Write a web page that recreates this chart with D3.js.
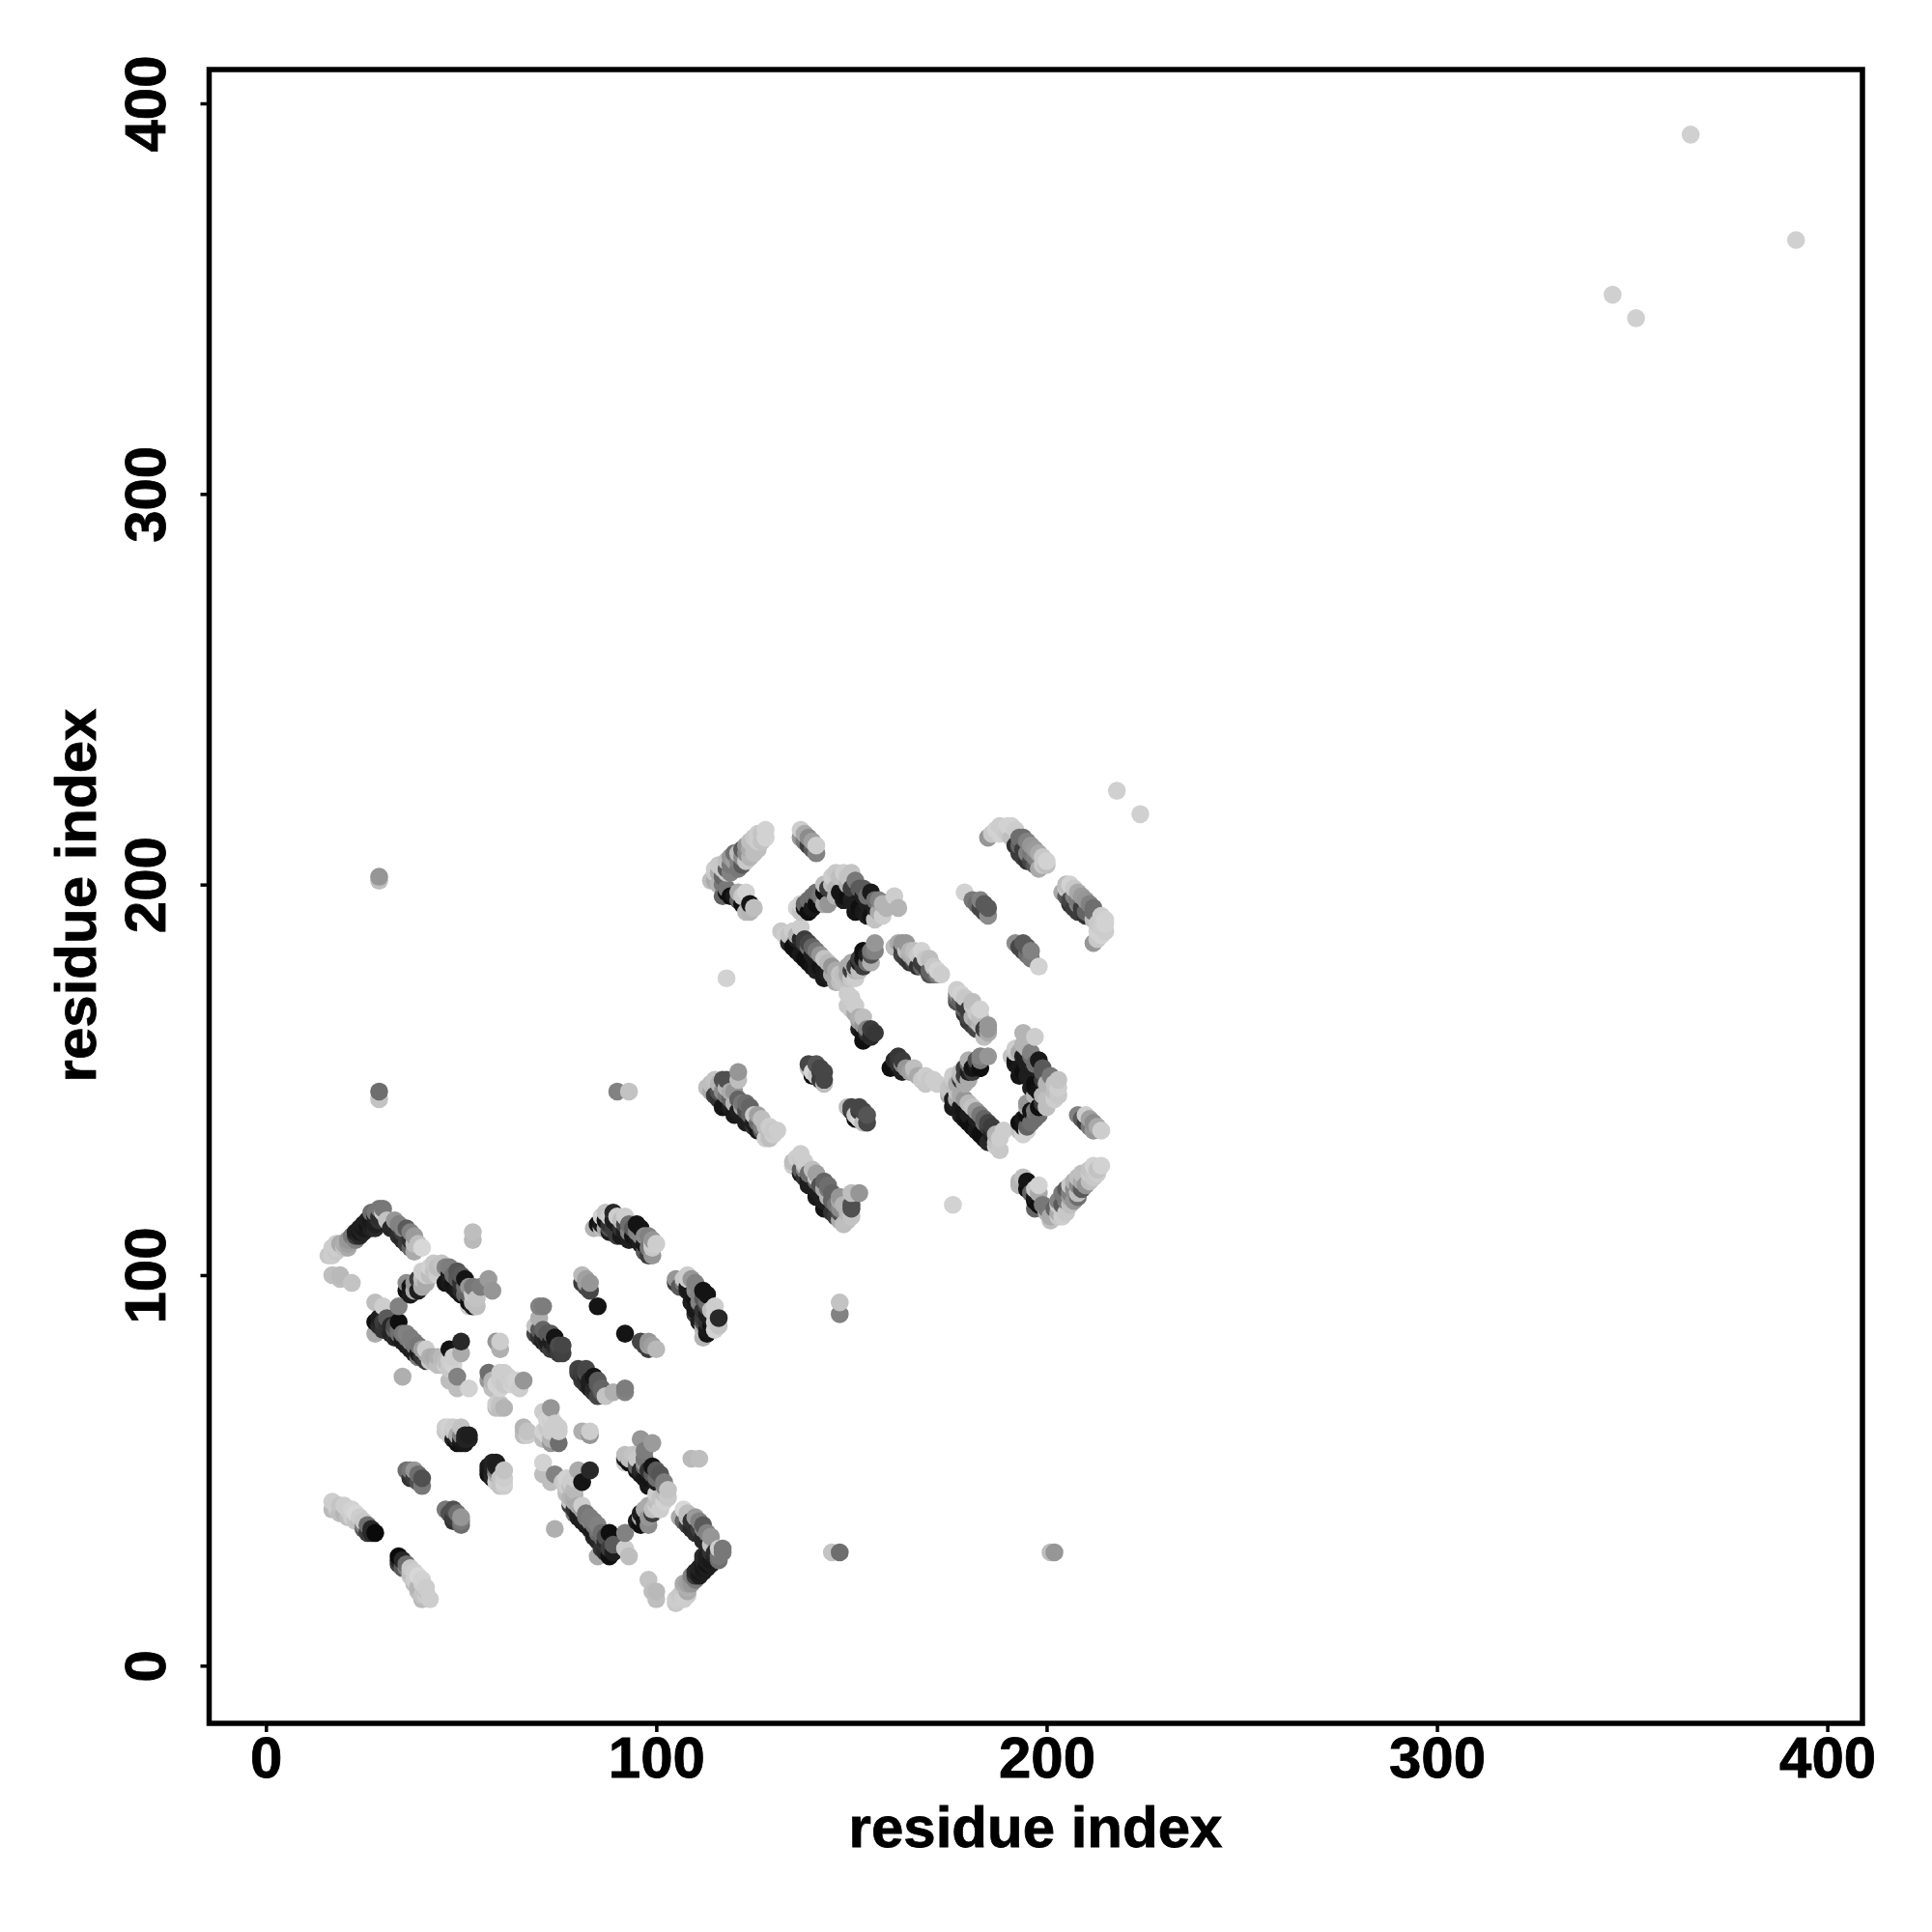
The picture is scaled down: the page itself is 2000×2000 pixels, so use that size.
<!DOCTYPE html>
<html><head><meta charset="utf-8"><script src="https://cdn.jsdelivr.net/npm/d3@7/dist/d3.min.js"></script>
<style>html,body{margin:0;background:#fff}svg{display:block}</style></head><body><svg id="c" width="2000" height="2000"></svg>
<script>
const xLabel="residue index", yLabel="residue index";
const tickValues=[0,100,200,300,400];
// contacts: [residue i, residue j, gray level]; each contact is shown at (i,j) and (j,i)
const s1=[[16,105,200],[17,107,205],[18,106,200],[19,108,170],[20,107,195],[21,108,160],[22,109,150],[22,110,120],[23,110,60],[24,110,40],[24,112,30],[25,111,35],[26,112,25],[26,114,30],[27,113,30],[28,112,40],[28,115,35],[29,114,50],[29,117,120],[30,116,205],[17,105,205],[18,107,205],[18,108,205],[20,108,175],[21,109,150],[21,107,170],[23,109,130],[23,111,30],[24,111,25],[25,112,25],[25,113,30],[26,113,20],[27,112,35],[27,114,25],[28,113,30],[27,116,110],[28,116,120],[29,115,45],[30,117,120]];
const s2=[[32,112,40],[33,114,150],[34,110,45],[36,112,90],[36,108,60],[38,110,155],[38,106,170],[40,107,215],[31,114,195],[33,112,40],[34,113,130],[35,109,40],[35,111,60],[35,112,130],[37,111,130],[37,109,50],[37,107,100],[39,108,190],[38,108,190]];
const s3=[[17,100,190],[19,100,185],[19,99,190],[22,98,195]];
const s4=[[28,93,190],[30,92,205],[34,92,130],[28,88,15],[28,85,170],[30,88,60],[31,89,90],[32,87,40],[33,87,80],[34,88,15],[33,84,40],[35,85,120],[35,83,30],[37,83,130],[37,81,30],[38,82,120],[40,81,160],[40,79,50],[42,79,175],[42,78,200],[45,79,185],[47,78,205],[47,76,200],[48,77,210],[29,87,40],[29,89,30],[30,86,50],[31,87,50],[32,85,35],[33,85,40],[33,86,100],[34,84,30],[34,85,110],[34,86,110],[35,84,25],[36,84,120],[36,82,30],[36,85,130],[37,84,125],[38,80,30],[38,83,125],[39,82,120],[39,80,30],[39,79,120],[41,80,170],[41,78,60],[41,81,205],[43,78,180],[43,79,170],[44,77,190],[44,79,175],[46,78,190],[46,77,205],[45,77,190],[48,79,205]];
const s5=[[47,81,20],[50,83,40],[50,80,170],[47,73,190],[49,74,130],[52,71,210],[49,71,190],[35,74,175]];
const s6=[[36,96,15],[36,98,140],[37,97,20],[38,96,170],[39,99,60],[40,101,205],[40,97,170],[42,102,210],[42,100,190],[44,100,205],[45,103,195],[46,102,130],[46,98,20],[47,100,30],[48,100,110],[49,101,85],[49,96,25],[50,98,50],[51,99,20],[51,95,100],[52,93,15],[52,97,150],[53,95,200],[52,92,205],[54,94,195],[55,97,125],[57,99,155],[58,96,150],[37,95,25],[38,98,150],[39,96,30],[40,99,190],[41,98,170],[41,100,205],[43,101,195],[43,103,200],[44,102,190],[47,98,25],[47,102,125],[48,98,20],[48,97,25],[49,99,90],[50,100,90],[50,95,20],[51,97,110],[50,96,40],[52,95,100],[53,92,30],[53,97,120],[53,93,190],[54,92,190]];
const s7=[[53,111,190],[53,109,185]];
const s8=[[70,92,130],[71,92,125],[70,89,175],[69,87,195],[71,86,100],[70,84,50],[72,83,30],[74,84,20],[73,81,60],[75,82,75],[75,80,60],[69,85,70],[70,86,90],[71,84,40],[71,83,30],[72,85,90],[72,82,50],[73,85,90],[73,83,30],[74,82,40],[74,81,50],[75,81,60],[76,82,70],[76,80,65]];
const s9=[[60,83,205],[59,83,150],[60,81,175],[57,75,110],[57,73,150],[58,71,190],[60,75,205],[59,72,210],[62,74,205],[61,72,200],[64,73,210],[66,73,150],[65,71,205],[59,66,190],[60,66,190],[59,67,205],[61,66,180],[58,73,180],[60,73,205],[61,75,205],[63,73,205],[60,71,210],[63,72,210],[60,67,195]];
const s10=[[17,42,205],[17,40,185],[18,41,205],[19,41,195],[20,39,180],[21,40,205],[22,38,205],[23,39,215],[24,37,190],[26,36,110],[26,34,60],[28,34,10],[18,40,195],[19,39,190],[20,41,205],[21,38,190],[22,40,210],[23,37,195],[24,38,205],[25,37,200],[25,36,130],[27,35,40],[27,34,40],[25,35,90]];
const s11=[[36,50,110],[38,50,150],[40,48,80],[40,46,120],[37,48,50],[37,50,120],[38,48,60],[39,49,110],[39,47,80]];
const s12=[[46,60,195],[47,61,210],[49,59,170],[50,59,130],[50,61,195],[49,57,15],[48,58,30],[51,58,35],[52,59,30],[46,61,205],[48,60,195],[48,61,205],[47,59,205],[49,58,40],[50,58,30],[50,57,20],[51,57,25],[51,59,35],[52,58,35]];
const s13=[[84,112,180],[86,112,190],[87,114,20],[88,112,80],[89,116,40],[88,115,205],[90,113,30],[90,110,60],[92,115,205],[92,111,30],[93,113,110],[94,110,20],[96,112,20],[96,108,30],[97,110,140],[97,106,90],[98,110,130],[99,105,150],[100,108,205],[99,107,200],[85,113,20],[86,113,25],[86,115,210],[87,112,170],[87,116,195],[88,111,30],[88,113,50],[89,114,30],[89,112,60],[90,115,205],[91,112,50],[91,114,190],[91,110,25],[92,113,70],[93,109,30],[93,111,130],[94,112,90],[95,109,25],[95,111,130],[95,113,20],[96,110,135],[97,108,25],[98,107,120],[98,105,60],[99,108,205],[99,109,150]];
const s14=[[81,100,185],[83,98,150],[83,96,70],[85,92,20],[81,98,60],[82,98,160],[82,99,160],[82,97,70]];
const s18=[[114,201,190],[115,203,200],[116,205,200],[117,202,100],[118,206,190],[119,207,150],[120,208,110],[121,204,120],[122,209,90],[123,206,200],[123,210,150],[125,212,200],[125,208,190],[128,214,210],[127,213,195],[118,199,120],[118,198,15],[122,195,15],[123,198,210],[125,194,190],[123,193,185],[116,200,180],[117,197,100],[115,201,170],[115,204,205],[116,203,170],[117,204,200],[117,200,120],[118,204,90],[118,203,200],[119,205,120],[119,203,130],[120,206,160],[121,206,130],[121,208,190],[122,205,90],[122,207,140],[123,208,140],[124,207,180],[124,209,170],[124,211,190],[126,211,205],[126,209,190],[126,213,205],[127,211,195],[128,212,210],[119,197,15],[120,197,25],[121,196,100],[121,198,170],[122,197,200],[124,193,180],[124,195,20]];
const s19=[[137,214,205],[137,212,150],[139,212,140],[139,210,60],[141,210,205],[141,208,130],[138,213,170],[138,211,120],[140,211,160],[140,209,90]];
const s20=[[136,194,210],[139,193,15],[139,196,110],[141,195,15],[141,198,110],[143,198,15],[143,200,190],[144,195,150],[146,197,180],[146,203,200],[148,203,205],[150,203,195],[149,197,15],[151,195,30],[152,199,90],[152,194,15],[154,192,30],[155,198,25],[156,196,110],[158,195,180],[158,192,205],[161,197,205],[162,194,180],[137,193,195],[137,195,210],[138,194,20],[138,195,100],[140,194,25],[140,197,110],[142,196,20],[142,197,120],[143,195,170],[144,199,60],[145,200,190],[145,202,205],[146,199,180],[147,202,190],[147,198,20],[148,197,20],[148,196,30],[149,202,195],[149,200,180],[150,199,60],[150,196,30],[151,201,120],[151,193,20],[153,199,90],[153,193,25],[153,197,30],[154,197,110],[154,195,30],[155,192,20],[156,194,30],[156,191,195],[157,192,195],[157,196,130],[157,193,170],[159,194,180]];
const s21=[[132,188,200],[134,187,195],[135,184,15],[137,189,205],[137,186,40],[139,185,70],[139,180,15],[141,183,120],[141,178,30],[143,181,195],[143,176,25],[145,179,150],[147,175,190],[149,177,170],[150,180,170],[150,178,60],[152,178,190],[152,181,60],[153,183,15],[155,182,80],[156,185,150],[155,180,175],[133,187,205],[134,185,40],[135,188,205],[136,186,30],[136,187,180],[136,183,15],[137,182,25],[138,185,60],[138,186,60],[138,181,15],[139,184,110],[140,184,100],[140,179,20],[140,182,30],[141,180,30],[142,179,20],[142,182,150],[143,178,25],[144,180,185],[144,177,30],[145,176,30],[145,177,170],[146,178,170],[146,175,170],[147,177,195],[148,175,195],[148,177,190],[149,179,170],[149,176,190],[150,176,200],[151,178,180],[151,179,60],[151,176,205],[152,180,30],[153,179,60],[153,181,20],[154,182,30],[154,180,110],[155,183,120],[156,183,130]];
const s22=[[162,185,170],[164,185,150],[163,182,70],[166,183,190],[168,183,210],[167,179,50],[170,181,190],[170,177,80],[172,178,210],[171,177,100],[161,184,190],[163,185,150],[163,184,60],[164,181,60],[164,183,190],[165,183,180],[165,182,170],[165,180,50],[166,180,70],[166,181,180],[167,182,200],[168,180,60],[168,179,100],[169,181,200],[169,179,60],[170,178,100],[171,179,200],[172,177,130],[173,177,205]];
const s23=[[185,212,150],[187,214,210],[190,215,210],[192,214,205],[194,212,110],[193,208,60],[195,206,50],[196,210,150],[198,208,170],[198,204,170],[200,206,210],[186,213,200],[188,215,205],[188,213,210],[189,214,205],[190,213,200],[191,212,190],[191,215,210],[192,210,50],[193,212,110],[193,210,100],[194,209,60],[194,207,60],[195,211,130],[195,208,130],[196,208,120],[196,206,70],[197,209,155],[197,205,90],[197,207,130],[199,207,200],[199,205,200],[200,205,190]];
const s24=[[179,198,210],[181,196,120],[183,196,130],[183,194,70],[185,194,90],[185,192,140],[182,195,110],[184,195,90],[184,193,70]];
const s25=[[113,148,190],[115,150,195],[118,150,80],[116,147,80],[121,152,150],[121,150,190],[117,143,20],[118,146,120],[120,144,180],[122,144,120],[120,141,25],[123,142,80],[123,139,30],[125,141,200],[126,139,110],[126,137,25],[128,138,190],[130,137,200],[128,135,205],[129,136,190],[114,149,190],[114,147,170],[115,146,60],[116,149,180],[116,145,50],[117,150,80],[117,147,140],[118,148,180],[119,145,100],[119,147,170],[119,143,30],[120,147,150],[121,145,100],[121,142,30],[122,141,30],[122,143,170],[123,144,110],[124,143,100],[124,141,100],[124,139,30],[125,139,30],[125,138,50],[126,141,160],[127,140,190],[127,137,90],[127,138,130],[129,138,205],[129,135,190],[130,136,205],[131,137,205]];
const s26=[[139,154,70],[141,154,85],[140,152,215],[140,151,15],[143,152,70],[143,150,70],[143,149,190],[139,153,190],[142,153,70],[141,151,200],[142,150,60],[142,152,60]];
const s27=[[156,162,55],[155,161,40],[153,160,15],[153,164,150],[153,166,190],[151,167,170],[149,169,200],[149,172,205],[150,168,200],[151,169,205],[152,166,175],[152,165,160],[154,162,50],[154,163,130],[155,163,60],[152,163,30],[153,162,20],[150,171,205],[150,170,200]];
const isolated=[[118,176,210],[29,147,110],[29,145,195],[29,202,150],[29,201,190],[90,147,130],[93,147,195],[345,351,208],[365,392,208],[218,224,208]];
const strands=[s1,s2,s3,s4,s5,s6,s7,s8,s9,s10,s11,s12,s13,s14,s18,s19,s20,s21,s22,s23,s24,s25,s26,s27,isolated];

const svg=d3.select("#c");
const x=d3.scaleLinear().domain([0,400]).range([275.3,1891.6]);
const y=d3.scaleLinear().domain([0,400]).range([1724.3,107]);
const font="'Liberation Sans',Arial,sans-serif";
const pts=[];
strands.forEach(s=>s.forEach(([i,j,g])=>{pts.push({x:i,y:j,g});pts.push({x:j,y:i,g});}));
pts.sort((a,b)=>d3.ascending(a.x,b.x)||d3.ascending(a.y,b.y));
svg.append("g").selectAll("circle").data(pts).join("circle")
 .attr("cx",d=>x(d.x)).attr("cy",d=>y(d.y)).attr("r",9.3)
 .attr("fill",d=>d3.rgb(d.g,d.g,d.g));
svg.append("rect").attr("x",216.5).attr("y",72).attr("width",1711.5).attr("height",1712)
 .attr("fill","none").attr("stroke","#000").attr("stroke-width",5.5);
const ax=svg.append("g").attr("transform","translate(0,1784)")
 .call(d3.axisBottom(x).tickValues(tickValues).tickSize(9).tickPadding(12));
const ay=svg.append("g").attr("transform","translate(216.5,0)")
 .call(d3.axisLeft(y).tickValues(tickValues).tickSize(9).tickPadding(12));
[ax,ay].forEach(a=>{a.select(".domain").remove();
 a.selectAll("line").attr("stroke","#000").attr("stroke-width",3.5);
 a.selectAll("text").attr("fill","#000").attr("stroke","#000").attr("stroke-width",0.8).style("font",`bold 60px ${font}`);});
ay.selectAll("text").attr("text-anchor","middle").attr("dy",0).attr("x",0).attr("y",0)
 .attr("transform","translate(-45.5,0) rotate(-90)");
ax.selectAll("text").attr("dy",0).attr("y",56);
svg.append("text").attr("x",1072).attr("y",1912).attr("text-anchor","middle").attr("stroke","#000").attr("stroke-width",0.8)
 .style("font",`bold 60px ${font}`).text(xLabel);
svg.append("text").attr("transform","translate(99,927) rotate(-90)").attr("text-anchor","middle").attr("stroke","#000").attr("stroke-width",0.8)
 .style("font",`bold 60px ${font}`).text(yLabel);
</script></body></html>
